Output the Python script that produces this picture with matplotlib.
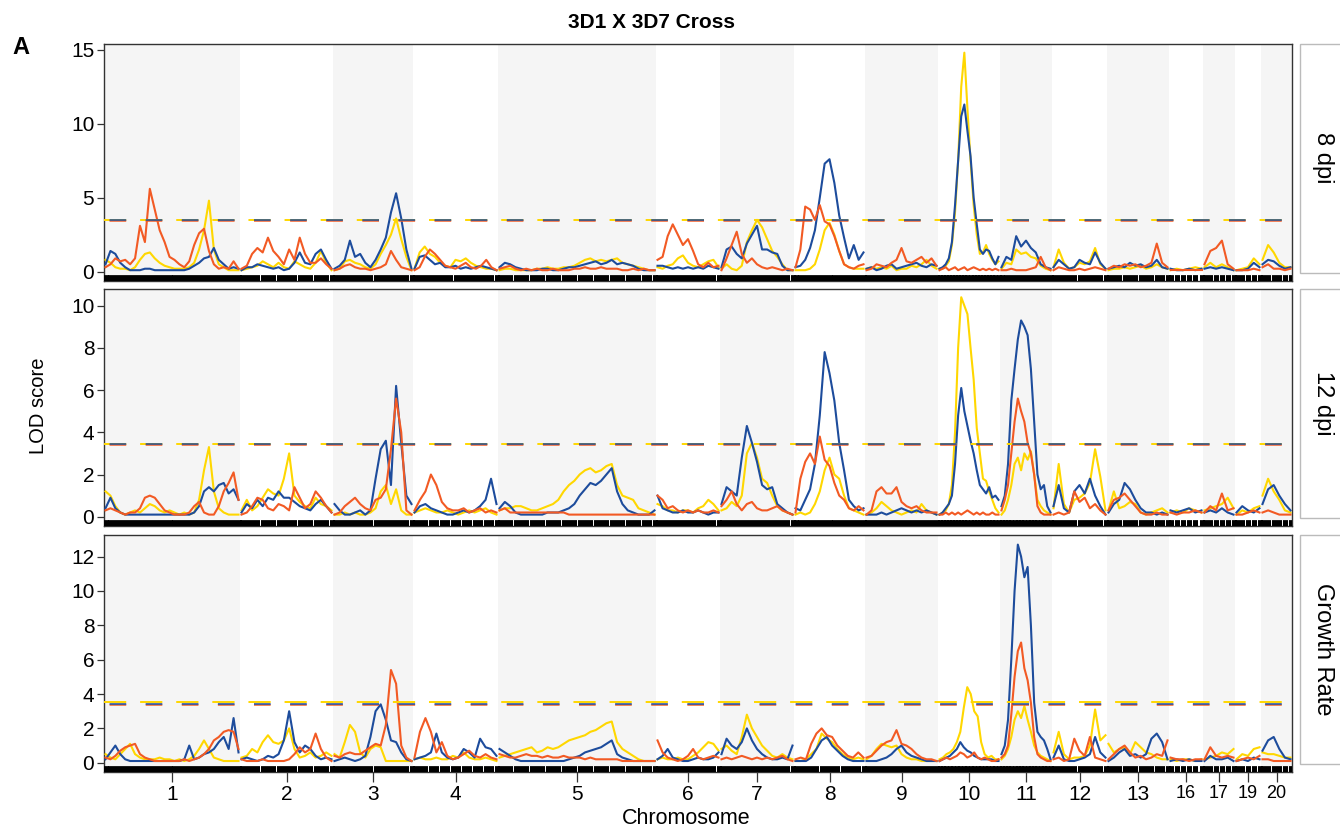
import matplotlib
matplotlib.use("Agg")
import matplotlib.pyplot as plt
import numpy as np
from matplotlib.transforms import blended_transform_factory
from matplotlib.patches import Rectangle

plt.rcParams['font.family'] = ['Liberation Sans', 'DejaVu Sans']
plt.rcParams['lines.scale_dashes'] = False

chrom_names = ['1', '2', '3', '4', '5', '6', '7', '8', '9', '10', '11', '12', '13', '16', '17', '19', '20']
chrom_len = [136, 93, 80, 85, 158, 64, 74, 71, 73, 62, 52, 55, 62, 34, 32, 26, 31]

# ---- 8 dpi ----
dpi8_yellow = [
    [0.8, 0.6, 0.3, 0.2, 0.2, 0.1, 0.3, 0.8, 1.2, 1.3, 0.9, 0.6, 0.4, 0.3, 0.2, 0.2, 0.2, 0.3, 0.6, 1.5, 2.8, 4.8, 1.5, 0.5, 0.3, 0.1, 0.1, 0.1],
    [0.1, 0.2, 0.3, 0.4, 0.7, 0.5, 0.3, 0.6, 0.3, 0.2, 0.7, 0.5, 0.3, 0.2, 0.6, 1.4, 0.6, 0.1],
    [0.1, 0.2, 0.7, 0.8, 0.6, 0.5, 0.3, 0.2, 0.5, 1.2, 1.8, 2.5, 3.6, 2.2, 1.0, 0.1],
    [0.2, 1.3, 1.7, 1.2, 1.0, 0.6, 0.4, 0.3, 0.8, 0.7, 0.9, 0.6, 0.4, 0.3, 0.2, 0.2, 0.1],
    [0.1, 0.2, 0.2, 0.1, 0.1, 0.1, 0.1, 0.2, 0.2, 0.3, 0.2, 0.2, 0.3, 0.3, 0.4, 0.6, 0.8, 0.9, 0.7, 0.8, 0.7, 0.8, 0.9, 0.6, 0.5, 0.4, 0.3, 0.2, 0.1, 0.1],
    [0.3, 0.2, 0.4, 0.5, 0.9, 1.1, 0.6, 0.4, 0.3, 0.5, 0.7, 0.8, 0.3],
    [0.2, 0.5, 0.2, 0.1, 0.4, 2.0, 2.8, 3.5, 3.0, 2.2, 1.4, 1.0, 0.5, 0.1, 0.1],
    [0.1, 0.1, 0.1, 0.2, 0.5, 1.5, 2.8, 3.3, 2.5, 1.4, 0.5, 0.3, 0.2, 0.2, 0.2],
    [0.2, 0.3, 0.2, 0.3, 0.2, 0.4, 0.1, 0.2, 0.2, 0.4, 0.3, 0.5, 0.8, 0.4, 0.2],
    [0.2, 0.2, 0.4, 0.7, 1.8, 4.0, 7.5, 12.5, 14.8, 11.0, 7.5, 4.5, 2.5, 1.2, 1.3, 1.8, 1.2, 0.8, 0.5, 0.7],
    [0.2, 0.6, 0.5, 1.5, 1.2, 1.3, 1.0, 0.9, 0.4, 0.2, 0.1],
    [0.3, 1.5, 0.6, 0.2, 0.3, 0.6, 0.5, 0.7, 1.6, 0.5, 0.2],
    [0.1, 0.2, 0.2, 0.3, 0.2, 0.3, 0.4, 0.2, 0.3, 0.5, 0.3, 0.2],
    [0.1, 0.2, 0.1, 0.2, 0.3, 0.2],
    [0.3, 0.6, 0.3, 0.5, 0.3, 0.1],
    [0.1, 0.2, 0.3, 0.9, 0.5],
    [0.8, 1.8, 1.3, 0.6, 0.3, 0.3],
]
dpi8_blue = [
    [0.5, 1.4, 1.2, 0.6, 0.3, 0.1, 0.1, 0.1, 0.2, 0.2, 0.1, 0.1, 0.1, 0.1, 0.1, 0.1, 0.1, 0.2, 0.4, 0.6, 0.9, 1.0, 1.6, 0.8, 0.5, 0.2, 0.3, 0.2],
    [0.1, 0.3, 0.3, 0.5, 0.4, 0.3, 0.2, 0.3, 0.1, 0.2, 0.6, 1.3, 0.6, 0.5, 1.2, 1.5, 0.8, 0.2],
    [0.2, 0.4, 0.8, 2.1, 1.0, 1.2, 0.6, 0.3, 0.8, 1.5, 2.3, 4.0, 5.3, 3.6, 1.5, 0.2],
    [0.2, 1.0, 1.1, 0.8, 0.5, 0.6, 0.3, 0.3, 0.4, 0.2, 0.3, 0.2, 0.3, 0.4, 0.3, 0.2, 0.1],
    [0.3, 0.6, 0.5, 0.3, 0.2, 0.1, 0.1, 0.1, 0.2, 0.2, 0.1, 0.1, 0.2, 0.3, 0.3, 0.4, 0.5, 0.6, 0.7, 0.5, 0.6, 0.8, 0.5, 0.6, 0.5, 0.4, 0.2, 0.1, 0.1, 0.1],
    [0.4, 0.4, 0.3, 0.2, 0.3, 0.2, 0.3, 0.2, 0.3, 0.2, 0.4, 0.3, 0.2],
    [0.3, 1.5, 1.7, 1.2, 0.9, 1.9, 2.5, 3.1, 1.5, 1.5, 1.3, 1.2, 0.4, 0.1, 0.1],
    [0.3, 0.4, 0.8, 1.6, 2.8, 5.0, 7.3, 7.6, 6.0, 3.8, 2.3, 0.9, 1.8, 0.8, 1.3],
    [0.2, 0.3, 0.1, 0.2, 0.4, 0.5, 0.2, 0.3, 0.4, 0.5, 0.6, 0.4, 0.3, 0.5, 0.4],
    [0.2, 0.3, 0.5, 0.9, 2.0, 4.5, 7.5, 10.5, 11.3, 9.5, 7.8, 5.0, 3.2, 1.5, 1.2, 1.5, 1.4, 0.9, 0.5, 1.0],
    [0.3, 1.0, 0.8, 2.4, 1.7, 2.1, 1.6, 1.3, 0.5, 0.3, 0.2],
    [0.3, 0.8, 0.5, 0.2, 0.3, 0.8, 0.6, 0.5, 1.3, 0.6, 0.2],
    [0.2, 0.3, 0.4, 0.3, 0.6, 0.4, 0.5, 0.3, 0.4, 0.8, 0.3, 0.2],
    [0.2, 0.1, 0.1, 0.2, 0.1, 0.2],
    [0.2, 0.3, 0.2, 0.3, 0.2, 0.1],
    [0.1, 0.1, 0.2, 0.6, 0.3],
    [0.5, 0.8, 0.7, 0.4, 0.2, 0.3],
]
dpi8_orange = [
    [0.3, 0.5, 0.9, 0.7, 0.8, 0.5, 0.9, 3.1, 2.0, 5.6, 4.2, 2.8, 2.0, 1.0, 0.8, 0.5, 0.3, 0.7, 1.8, 2.6, 2.9, 1.4, 0.5, 0.2, 0.3, 0.2, 0.7, 0.2],
    [0.2, 0.4, 1.2, 1.6, 1.3, 2.3, 1.4, 1.0, 0.5, 1.5, 0.8, 2.3, 1.2, 0.6, 0.6, 0.9, 0.5, 0.2],
    [0.1, 0.2, 0.4, 0.5, 0.3, 0.2, 0.2, 0.1, 0.2, 0.3, 0.5, 1.4, 0.8, 0.3, 0.2, 0.1],
    [0.1, 0.3, 1.0, 1.5, 1.2, 0.8, 0.4, 0.3, 0.2, 0.4, 0.6, 0.3, 0.2, 0.4, 0.8, 0.3, 0.1],
    [0.2, 0.3, 0.4, 0.2, 0.1, 0.2, 0.1, 0.2, 0.1, 0.1, 0.2, 0.1, 0.1, 0.1, 0.2, 0.2, 0.3, 0.2, 0.2, 0.3, 0.2, 0.2, 0.2, 0.1, 0.1, 0.2, 0.1, 0.2, 0.1, 0.1],
    [0.8, 1.0, 2.4, 3.2, 2.5, 1.8, 2.2, 1.4, 0.5, 0.3, 0.6, 0.3, 0.4],
    [0.1, 0.9, 1.8, 2.7, 1.2, 0.6, 0.9, 0.5, 0.3, 0.2, 0.3, 0.2, 0.1, 0.2, 0.1],
    [0.3, 1.5, 4.4, 4.2, 3.5, 4.5, 3.4, 3.2, 2.4, 1.4, 0.5, 0.3, 0.2, 0.4, 0.5],
    [0.1, 0.2, 0.5, 0.4, 0.3, 0.6, 0.8, 1.6, 0.7, 0.6, 0.8, 1.0, 0.6, 0.9, 0.4],
    [0.1, 0.2, 0.3, 0.1, 0.2, 0.3, 0.1, 0.2, 0.3, 0.1, 0.2, 0.3, 0.2, 0.1, 0.2, 0.1, 0.2, 0.1, 0.2, 0.1],
    [0.1, 0.1, 0.2, 0.1, 0.1, 0.1, 0.2, 0.3, 1.0, 0.3, 0.1],
    [0.1, 0.3, 0.2, 0.1, 0.1, 0.2, 0.1, 0.2, 0.3, 0.2, 0.1],
    [0.2, 0.4, 0.3, 0.5, 0.4, 0.5, 0.3, 0.4, 0.6, 1.9, 0.6, 0.3],
    [0.1, 0.1, 0.1, 0.1, 0.1, 0.1],
    [0.5, 1.4, 1.6, 2.1, 0.5, 0.2],
    [0.1, 0.1, 0.1, 0.2, 0.1],
    [0.3, 0.5, 0.2, 0.2, 0.1, 0.2],
]

# ---- 12 dpi ----
dpi12_yellow = [
    [1.2, 1.0, 0.5, 0.2, 0.1, 0.2, 0.3, 0.2, 0.4, 0.6, 0.5, 0.3, 0.2, 0.3, 0.2, 0.1, 0.2, 0.1, 0.2, 0.8, 2.2, 3.3, 1.2, 0.4, 0.2, 0.1, 0.1, 0.1],
    [0.3, 0.8, 0.3, 0.5, 0.9, 1.3, 1.1, 1.0, 1.8, 3.0, 1.0, 0.7, 0.5, 0.4, 0.9, 0.6, 0.5, 0.3],
    [0.1, 0.1, 0.2, 0.1, 0.2, 0.1, 0.1, 0.2, 0.4, 1.2, 1.5, 0.6, 1.3, 0.3, 0.1, 0.1],
    [0.2, 0.3, 0.4, 0.3, 0.2, 0.2, 0.3, 0.2, 0.1, 0.2, 0.3, 0.2, 0.3, 0.4, 0.2, 0.1],
    [0.3, 0.4, 0.4, 0.5, 0.5, 0.4, 0.3, 0.3, 0.4, 0.5, 0.6, 0.8, 1.2, 1.5, 1.7, 2.0, 2.2, 2.3, 2.1, 2.2, 2.4, 2.5, 1.5, 1.0, 0.9, 0.8, 0.4, 0.3, 0.2, 0.1],
    [0.6, 0.5, 0.3, 0.3, 0.2, 0.3, 0.3, 0.2, 0.4, 0.5, 0.8, 0.6, 0.3],
    [0.3, 0.4, 0.7, 0.5, 1.0, 3.0, 3.5, 2.8, 1.8, 1.6, 1.0, 0.5, 0.3, 0.2, 0.1],
    [0.1, 0.2, 0.1, 0.2, 0.6, 1.2, 2.2, 2.8, 2.0, 1.8, 1.0, 0.4, 0.3, 0.2, 0.1],
    [0.1, 0.2, 0.4, 0.7, 0.5, 0.3, 0.2, 0.1, 0.2, 0.3, 0.2, 0.6, 0.3, 0.2, 0.1],
    [0.1, 0.2, 0.3, 0.6, 1.5, 4.0, 8.0, 10.4, 10.0, 9.6, 8.0, 6.5, 4.2, 3.0, 1.8, 1.7, 1.2, 0.8, 0.4, 0.2],
    [0.1, 0.3, 0.8, 1.5, 2.5, 2.8, 2.2, 3.0, 2.7, 3.1, 2.0, 0.8, 0.5, 0.3, 0.2, 0.1],
    [0.4, 2.5, 0.6, 0.2, 0.8, 0.9, 1.1, 1.6, 3.2, 1.9, 0.3],
    [0.3, 1.2, 0.4, 0.5, 0.7, 0.6, 0.2, 0.1, 0.2, 0.3, 0.4, 0.2],
    [0.2, 0.3, 0.2, 0.4, 0.3, 0.2],
    [0.3, 0.4, 0.5, 0.6, 0.9, 0.4],
    [0.1, 0.3, 0.2, 0.4, 0.5],
    [1.0, 1.8, 1.2, 0.8, 0.3, 0.2],
]
dpi12_blue = [
    [0.4, 0.9, 0.4, 0.2, 0.1, 0.1, 0.1, 0.1, 0.1, 0.1, 0.1, 0.1, 0.1, 0.1, 0.1, 0.1, 0.1, 0.1, 0.2, 0.5, 1.2, 1.4, 1.2, 1.5, 1.6, 1.1, 1.3, 0.8],
    [0.2, 0.6, 0.4, 0.8, 0.5, 0.9, 0.8, 1.2, 0.9, 0.9, 0.7, 0.5, 0.4, 0.3, 0.6, 0.8, 0.5, 0.2],
    [0.6, 0.3, 0.1, 0.1, 0.2, 0.3, 0.1, 0.3, 1.8, 3.2, 3.6, 1.5, 6.2, 3.5, 1.0, 0.6],
    [0.2, 0.5, 0.6, 0.4, 0.3, 0.2, 0.1, 0.1, 0.2, 0.3, 0.2, 0.3, 0.5, 0.8, 1.8, 0.6],
    [0.4, 0.7, 0.5, 0.2, 0.1, 0.1, 0.1, 0.1, 0.1, 0.2, 0.2, 0.2, 0.3, 0.4, 0.6, 1.0, 1.3, 1.6, 1.5, 1.7, 2.0, 2.3, 1.2, 0.6, 0.3, 0.2, 0.1, 0.1, 0.1, 0.3],
    [1.0, 0.4, 0.3, 0.2, 0.2, 0.3, 0.2, 0.2, 0.3, 0.2, 0.1, 0.2, 0.2],
    [0.6, 1.4, 1.2, 1.0, 2.8, 4.3, 3.5, 2.6, 1.5, 1.3, 1.4, 0.6, 0.4, 0.2, 0.1],
    [0.4, 0.3, 0.8, 1.3, 2.5, 4.8, 7.8, 6.8, 5.5, 3.5, 2.2, 0.8, 0.5, 0.3, 0.4],
    [0.1, 0.1, 0.1, 0.2, 0.1, 0.2, 0.3, 0.4, 0.3, 0.2, 0.3, 0.2, 0.3, 0.2, 0.1],
    [0.1, 0.2, 0.4, 0.6, 1.0, 2.5, 4.8, 6.1, 5.0, 4.3, 3.6, 3.0, 2.2, 1.5, 1.3, 1.1, 1.4, 0.9, 1.0, 0.8],
    [0.5, 1.0, 2.5, 5.5, 7.0, 8.4, 9.3, 9.0, 8.6, 7.0, 4.5, 2.0, 1.3, 1.5, 0.5, 0.2],
    [0.5, 1.5, 0.4, 0.2, 1.2, 1.5, 1.1, 1.8, 1.0, 0.5, 0.1],
    [0.2, 0.6, 0.8, 1.6, 1.3, 0.8, 0.4, 0.2, 0.2, 0.1, 0.2, 0.1],
    [0.3, 0.2, 0.3, 0.4, 0.2, 0.3],
    [0.2, 0.3, 0.2, 0.4, 0.2, 0.1],
    [0.2, 0.5, 0.3, 0.2, 0.4],
    [0.6, 1.3, 1.5, 1.0, 0.6, 0.3],
]
dpi12_orange = [
    [0.3, 0.4, 0.3, 0.2, 0.1, 0.2, 0.2, 0.4, 0.9, 1.0, 0.9, 0.6, 0.3, 0.2, 0.1, 0.1, 0.1, 0.2, 0.5, 0.7, 0.2, 0.1, 0.1, 0.5, 1.2, 1.6, 2.1, 0.8],
    [0.1, 0.2, 0.5, 0.9, 0.8, 0.4, 0.3, 0.6, 0.5, 0.3, 1.4, 0.9, 0.4, 0.6, 1.2, 0.9, 0.5, 0.2],
    [0.1, 0.2, 0.5, 0.7, 0.9, 0.6, 0.4, 0.3, 0.8, 0.9, 1.3, 3.2, 5.6, 4.0, 0.3, 0.1],
    [0.3, 0.8, 1.2, 2.0, 1.5, 0.7, 0.4, 0.3, 0.3, 0.4, 0.2, 0.3, 0.4, 0.2, 0.3, 0.2],
    [0.3, 0.4, 0.2, 0.2, 0.2, 0.2, 0.2, 0.2, 0.2, 0.2, 0.2, 0.2, 0.2, 0.1, 0.1, 0.1, 0.1, 0.1, 0.1, 0.1, 0.1, 0.1, 0.1, 0.1, 0.1, 0.1, 0.1, 0.1, 0.1, 0.1],
    [1.0, 0.8, 0.4, 0.5, 0.3, 0.2, 0.3, 0.2, 0.3, 0.2, 0.2, 0.3, 0.2],
    [0.5, 0.8, 1.2, 0.6, 0.3, 0.6, 0.7, 0.4, 0.3, 0.3, 0.4, 0.5, 0.3, 0.2, 0.1],
    [0.2, 1.8, 2.6, 3.0, 2.5, 3.8, 2.7, 2.4, 1.6, 1.0, 0.8, 0.4, 0.3, 0.5, 0.3],
    [0.1, 0.3, 1.2, 1.4, 1.1, 1.1, 1.4, 0.7, 0.5, 0.4, 0.5, 0.3, 0.2, 0.2, 0.2],
    [0.1, 0.1, 0.2, 0.1, 0.2, 0.1, 0.2, 0.1, 0.2, 0.3, 0.2, 0.1, 0.2, 0.1, 0.2, 0.1, 0.1, 0.2, 0.1, 0.1],
    [0.3, 0.8, 1.5, 3.0, 4.5, 5.6, 5.0, 4.5, 3.5, 3.0, 2.0, 0.5, 0.2, 0.1, 0.1, 0.1],
    [0.1, 0.2, 0.1, 0.2, 1.2, 0.7, 0.9, 0.4, 0.6, 0.3, 0.1],
    [0.3, 0.8, 0.9, 1.1, 0.8, 0.5, 0.2, 0.1, 0.1, 0.2, 0.1, 0.1],
    [0.2, 0.1, 0.2, 0.2, 0.3, 0.2],
    [0.2, 0.5, 0.3, 1.1, 0.3, 0.4],
    [0.1, 0.1, 0.2, 0.3, 0.2],
    [0.2, 0.3, 0.2, 0.1, 0.1, 0.1],
]

# ---- Growth Rate ----
growth_yellow = [
    [0.5, 0.3, 0.2, 0.5, 0.8, 1.1, 0.5, 0.3, 0.2, 0.2, 0.2, 0.3, 0.2, 0.2, 0.1, 0.2, 0.1, 0.2, 0.4, 0.8, 1.3, 0.8, 0.3, 0.2, 0.1, 0.1, 0.1, 0.1],
    [0.3, 0.4, 0.8, 0.6, 1.2, 1.6, 1.2, 1.1, 1.3, 2.0, 0.8, 0.3, 0.4, 0.6, 0.3, 0.4, 0.6, 0.4],
    [0.5, 0.3, 1.2, 2.2, 1.8, 0.6, 0.3, 0.8, 1.0, 0.9, 0.1, 0.1, 0.1, 0.1, 0.1, 0.1],
    [0.2, 0.3, 0.2, 0.2, 0.3, 0.2, 0.2, 0.4, 0.3, 0.6, 0.3, 0.2, 0.2, 0.3, 0.2, 0.1],
    [0.3, 0.4, 0.5, 0.6, 0.7, 0.8, 0.9, 0.6, 0.7, 0.9, 0.8, 0.9, 1.1, 1.3, 1.4, 1.5, 1.6, 1.8, 1.9, 2.1, 2.3, 2.4, 1.2, 0.8, 0.6, 0.4, 0.2, 0.1, 0.1, 0.1],
    [0.2, 0.3, 0.2, 0.2, 0.3, 0.2, 0.2, 0.4, 0.6, 0.9, 1.2, 1.1, 0.7],
    [0.8, 1.0, 0.7, 0.5, 1.5, 2.8, 2.0, 1.5, 1.0, 0.7, 0.4, 0.3, 0.5, 0.3, 0.2],
    [0.1, 0.1, 0.2, 0.5, 0.8, 1.7, 1.4, 1.2, 0.8, 0.5, 0.3, 0.2, 0.3, 0.2],
    [0.2, 0.4, 0.8, 1.1, 1.0, 0.9, 1.0, 0.5, 0.3, 0.2, 0.2, 0.1, 0.1, 0.1, 0.1],
    [0.2, 0.3, 0.5, 0.6, 0.8, 1.2, 1.8, 3.2, 4.4, 4.0, 3.0, 2.7, 1.2, 0.5, 0.3, 0.4, 0.2, 0.2],
    [0.2, 0.4, 0.8, 1.5, 2.5, 3.0, 2.6, 3.3, 2.5, 1.8, 1.0, 0.6, 0.4, 0.3, 0.2, 0.1],
    [0.6, 1.8, 0.5, 0.2, 0.3, 0.3, 0.4, 1.0, 3.1, 1.3, 1.6],
    [1.1, 0.6, 0.8, 0.9, 0.5, 1.2, 0.9, 0.6, 0.5, 0.3, 0.2, 0.2],
    [0.2, 0.1, 0.2, 0.2, 0.1, 0.2],
    [0.2, 0.3, 0.4, 0.6, 0.5, 0.8],
    [0.2, 0.5, 0.4, 0.8, 0.9],
    [0.6, 0.5, 0.5, 0.4, 0.3, 0.3],
]
growth_blue = [
    [0.2, 0.6, 1.0, 0.5, 0.2, 0.1, 0.1, 0.1, 0.1, 0.1, 0.1, 0.1, 0.1, 0.1, 0.1, 0.1, 0.2, 1.0, 0.2, 0.3, 0.5, 0.6, 0.8, 1.2, 1.5, 0.8, 2.6, 0.6],
    [0.2, 0.3, 0.2, 0.1, 0.2, 0.4, 0.3, 0.5, 1.3, 3.0, 1.2, 0.6, 1.0, 0.8, 0.4, 0.2, 0.3, 0.2],
    [0.1, 0.2, 0.3, 0.2, 0.1, 0.2, 0.4, 1.5, 3.0, 3.4, 2.5, 1.3, 1.2, 0.6, 0.2, 0.1],
    [0.2, 0.3, 0.4, 0.6, 1.7, 0.6, 0.3, 0.2, 0.3, 0.8, 0.6, 0.3, 1.4, 0.9, 0.8, 0.4],
    [0.8, 0.6, 0.4, 0.2, 0.1, 0.1, 0.1, 0.1, 0.1, 0.1, 0.1, 0.1, 0.1, 0.2, 0.3, 0.4, 0.6, 0.7, 0.8, 0.9, 1.1, 1.3, 0.5, 0.3, 0.2, 0.1, 0.1, 0.1, 0.1, 0.1],
    [0.2, 0.4, 0.8, 0.3, 0.2, 0.1, 0.1, 0.2, 0.3, 0.2, 0.2, 0.3, 0.6],
    [0.5, 1.4, 1.0, 0.8, 1.2, 2.0, 1.3, 0.8, 0.5, 0.3, 0.2, 0.2, 0.3, 0.2, 1.0],
    [0.1, 0.1, 0.1, 0.3, 0.8, 1.3, 1.5, 1.0, 0.7, 0.4, 0.2, 0.1, 0.1, 0.1],
    [0.1, 0.1, 0.1, 0.2, 0.3, 0.5, 0.8, 1.0, 0.6, 0.4, 0.3, 0.2, 0.1, 0.1, 0.1],
    [0.1, 0.2, 0.3, 0.4, 0.6, 0.8, 1.2, 0.9, 0.7, 0.6, 0.4, 0.3, 0.2, 0.2, 0.2, 0.2, 0.1, 0.1],
    [0.5, 1.0, 2.5, 6.0, 10.0, 12.7, 12.0, 10.8, 11.4, 8.0, 3.5, 1.8, 1.5, 1.3, 0.8, 0.2],
    [0.3, 1.0, 0.2, 0.1, 0.1, 0.2, 0.3, 0.5, 1.5, 0.6, 0.3],
    [0.1, 0.3, 0.6, 0.8, 0.4, 0.5, 0.3, 0.5, 1.4, 1.7, 1.2, 0.2],
    [0.1, 0.2, 0.1, 0.2, 0.1, 0.1],
    [0.1, 0.4, 0.2, 0.2, 0.3, 0.1],
    [0.1, 0.2, 0.1, 0.3, 0.2],
    [0.7, 1.3, 1.5, 0.8, 0.3, 0.2],
]
growth_orange = [
    [0.3, 0.2, 0.4, 0.7, 0.9, 1.0, 1.1, 0.5, 0.3, 0.2, 0.1, 0.1, 0.1, 0.1, 0.1, 0.1, 0.2, 0.1, 0.2, 0.3, 0.5, 0.8, 1.3, 1.5, 1.8, 1.9, 1.8, 0.8],
    [0.2, 0.1, 0.1, 0.1, 0.2, 0.1, 0.1, 0.1, 0.1, 0.2, 0.5, 0.9, 0.6, 0.8, 1.7, 0.8, 0.3, 0.1],
    [0.4, 0.3, 0.5, 0.6, 0.5, 0.5, 0.7, 0.9, 1.1, 1.0, 2.2, 5.4, 4.6, 1.0, 0.3, 0.1],
    [0.3, 1.8, 2.6, 1.8, 0.6, 1.2, 0.4, 0.2, 0.3, 0.5, 0.7, 0.4, 0.3, 0.5, 0.3, 0.2],
    [0.5, 0.4, 0.3, 0.3, 0.4, 0.5, 0.4, 0.4, 0.3, 0.4, 0.3, 0.3, 0.4, 0.3, 0.3, 0.3, 0.2, 0.3, 0.2, 0.2, 0.2, 0.2, 0.2, 0.1, 0.1, 0.1, 0.1, 0.1, 0.1, 0.1],
    [1.3, 0.6, 0.3, 0.2, 0.1, 0.2, 0.4, 0.8, 0.3, 0.2, 0.3, 0.4, 0.3],
    [0.2, 0.3, 0.2, 0.3, 0.4, 0.3, 0.2, 0.3, 0.2, 0.3, 0.2, 0.3, 0.4, 0.2, 0.1],
    [0.2, 0.3, 0.2, 1.1, 1.7, 2.0, 1.6, 1.5, 1.0, 0.7, 0.4, 0.3, 0.6, 0.3],
    [0.3, 0.4, 0.7, 1.0, 1.2, 1.3, 1.9, 1.1, 1.0, 0.8, 0.5, 0.3, 0.2, 0.2, 0.1],
    [0.1, 0.2, 0.3, 0.2, 0.3, 0.4, 0.6, 0.5, 0.3, 0.4, 0.6, 0.3, 0.2, 0.3, 0.2, 0.1, 0.1, 0.2],
    [0.3, 0.5, 1.0, 2.8, 5.0, 6.5, 7.0, 5.5, 4.8, 3.5, 1.5, 0.5, 0.3, 0.2, 0.1, 0.1],
    [0.2, 0.3, 0.1, 0.2, 1.4, 0.7, 0.4, 1.5, 0.3, 0.2, 0.1],
    [0.2, 0.5, 0.8, 1.0, 0.6, 0.3, 0.4, 0.2, 0.3, 0.5, 0.4, 1.3],
    [0.3, 0.2, 0.2, 0.1, 0.2, 0.2],
    [0.2, 0.9, 0.4, 0.3, 0.4, 0.3],
    [0.1, 0.2, 0.3, 0.2, 0.4],
    [0.2, 0.2, 0.1, 0.1, 0.1, 0.1],
]

panel_names = ['8 dpi', '12 dpi', 'Growth Rate']
thresholds = [
    {'yellow': 3.5, 'blue': 3.5, 'orange': 3.44},
    {'yellow': 3.44, 'blue': 3.44, 'orange': 3.40},
    {'yellow': 3.52, 'blue': 3.4, 'orange': 3.36},
]
panel_data = [
    {'yellow': dpi8_yellow, 'blue': dpi8_blue, 'orange': dpi8_orange},
    {'yellow': dpi12_yellow, 'blue': dpi12_blue, 'orange': dpi12_orange},
    {'yellow': growth_yellow, 'blue': growth_blue, 'orange': growth_orange},
]

colors = {'yellow': '#FFD700', 'blue': '#1D4C9C', 'orange': '#F25A24'}

# layout, in pixels
W, H = 1340, 831
left_px, right_px = 104, 1292
panel_px = [(43.5, 281), (289, 526), (535, 772)]
ylims = [(-0.63, 15.42), (-0.44, 10.79), (-0.54, 13.26)]
yticks = [[0, 5, 10, 15], [0, 2, 4, 6, 8, 10], [0, 2, 4, 6, 8, 10, 12]]

fig = plt.figure(figsize=(W / 100, H / 100), dpi=100)

starts = np.concatenate([[0], np.cumsum(chrom_len)[:-1]])
ends = starts + np.array(chrom_len)
centers = (starts + ends) / 2
pad = 1.5

for p in range(3):
    top, bot = panel_px[p]
    ax = fig.add_axes([left_px / W, 1 - bot / H, (right_px - left_px) / W, (bot - top) / H])
    ax.set_xlim(0, ends[-1])
    ax.set_ylim(*ylims[p])

    for i in range(len(chrom_names)):
        if i % 2 == 0:
            ax.axvspan(starts[i], ends[i], color='#F5F5F5', lw=0, zorder=0)

    rug_x = []
    for key in ['yellow', 'blue', 'orange']:
        series = panel_data[p][key]
        for i, vals in enumerate(series):
            x = np.linspace(starts[i] + pad, ends[i] - pad, len(vals))
            rug_x.extend(x)
            ax.plot(x, vals, color=colors[key], lw=1.5, zorder=3, solid_joinstyle='round')

    # threshold lines: yellow dash peeks out ahead of the blue/orange dash
    th = thresholds[p]
    ax.axhline(th['yellow'], color=colors['yellow'], lw=1.4, linestyle=(0, (16, 10)), zorder=4)
    ax.axhline(th['orange'], color=colors['orange'], lw=1.4, linestyle=(22, (12, 14)), zorder=4, alpha=0.75)
    ax.axhline(th['blue'], color=colors['blue'], lw=1.1, linestyle=(22, (12, 14)), zorder=5)

    # rug of marker positions
    trans = blended_transform_factory(ax.transData, ax.transAxes)
    ax.vlines(rug_x, 0, 0.026, transform=trans, color='black', lw=3.6, zorder=6)

    ax.set_yticks(yticks[p])
    ax.tick_params(axis='y', direction='out', length=5, width=0.9, color='#333333',
                   labelsize=15, pad=2)
    for sp in ax.spines.values():
        sp.set_color('#333333')
        sp.set_linewidth(1.0)

    if p == 2:
        ax.set_xticks(centers)
        ax.set_xticklabels(chrom_names)
        for lbl, name in zip(ax.get_xticklabels(), chrom_names):
            lbl.set_fontsize(13 if name in ('16', '17', '19', '20') else 15)
        ax.tick_params(axis='x', direction='out', length=7, width=0.9, color='#333333', pad=2)
    else:
        ax.set_xticks([])

    # facet strip on the right
    strip_top, strip_bot = top, bot - 8
    fig.patches.append(Rectangle((1300 / W, 1 - strip_bot / H), 60 / W, (strip_bot - strip_top) / H,
                                 transform=fig.transFigure, facecolor='white',
                                 edgecolor='#BBBBBB', lw=1.0))
    fig.text(1323 / W, 1 - (strip_top + strip_bot) / 2 / H, panel_names[p], rotation=270,
             ha='center', va='center', fontsize=17)

fig.text(652 / W, 1 - 22 / H, '3D1 X 3D7 Cross', ha='center', va='center', fontsize=15, fontweight='bold')
fig.text(12 / W, 1 - 47 / H, 'A', ha='left', va='center', fontsize=17, fontweight='bold')
fig.text(38 / W, 1 - 406 / H, 'LOD score', rotation=90, ha='center', va='center', fontsize=14.5)
fig.text(686 / W, 1 - 819 / H, 'Chromosome', ha='center', va='center', fontsize=15.5)

fig.savefig('out.png', dpi=100)
